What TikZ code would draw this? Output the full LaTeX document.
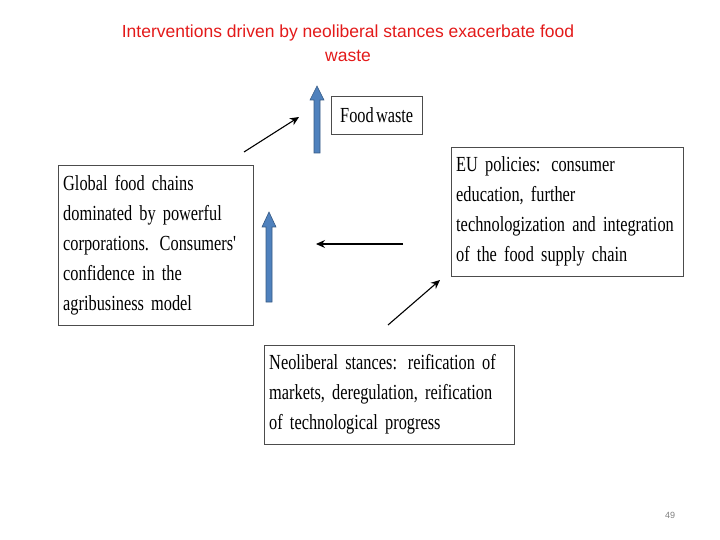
\documentclass[tikz,border=0pt]{standalone}
\usepackage{fontspec}
\setmainfont{Liberation Sans}
\newfontfamily\narrowserif[FakeStretch=0.76, WordSpace=0.55]{Liberation Serif}
\usetikzlibrary{arrows.meta}
\definecolor{arrowblue}{HTML}{4F81BD}
\definecolor{titlered}{HTML}{E31A1A}
\tikzset{
  textbox/.style={draw=black!70, anchor=north west, align=left, inner sep=5pt,
    font=\narrowserif\fontsize{21.5}{30}\selectfont},
  uparrow/.style={draw=arrowblue!70!black, fill=arrowblue, line width=0.6pt},
  thinarrow/.style={-{Stealth[length=9pt,width=8pt]}, line width=1.1pt}
}
\begin{document}
\begin{tikzpicture}[x=1pt,y=-1pt]
  \useasboundingbox (0,0) rectangle (720,540);

  % title
  \node[text=titlered, align=center, font=\fontsize{17.5}{24}\selectfont] (title) at (348,43)
    {Interventions driven by neoliberal stances exacerbate food\\waste};

  % boxes
  \node[textbox, minimum width=91pt, minimum height=38pt, align=center] (waste) at (331,96) {Food waste};
  \node[textbox, minimum width=195pt, minimum height=160pt, text width=185pt] (global) at (58,165)
    {Global food chains\\dominated by powerful\\corporations. Consumers'\\confidence in the\\agribusiness model};
  \node[textbox, minimum width=232pt, minimum height=129pt, text width=222pt] (eu) at (451,147)
    {EU policies: consumer\\education, further\\technologization and integration\\of the food supply chain};
  \node[textbox, minimum width=250pt, minimum height=99pt, text width=240pt] (neo) at (264,345)
    {Neoliberal stances: reification of\\markets, deregulation, reification\\of technological progress};

  % blue arrows
  \draw[uparrow] (314,153) -- (314,100) -- (310,100) -- (317,86) -- (324,100) -- (320,100) -- (320,153) -- cycle;
  \draw[uparrow] (266,302) -- (266,227) -- (262,227) -- (269,212) -- (276,227) -- (272,227) -- (272,302) -- cycle;

  % black arrows
  \coordinate (a1) at (244,152); \coordinate (b1) at (299,117);
  \coordinate (a2) at (403,244); \coordinate (b2) at (316,244);
  \coordinate (a3) at (388,325); \coordinate (b3) at (440,280);
  \draw[thinarrow] (a1) -- (b1);
  \draw[thinarrow] (a2) -- (b2);
  \draw[thinarrow] (a3) -- (b3);

  % page number
  \node[text=gray, font=\fontsize{9}{11}\selectfont] (page) at (670,515) {49};
\end{tikzpicture}
\end{document}
